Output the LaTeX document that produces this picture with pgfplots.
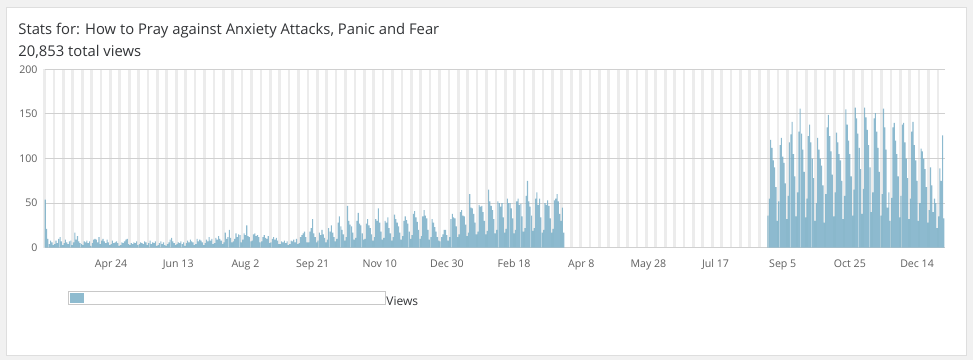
\documentclass[border=0pt]{standalone}
\usepackage{fontspec}
\setmainfont{Open Sans}
\usepackage{pgfplots}
\usepackage{pgfplotstable}
\pgfplotsset{compat=1.18}
\definecolor{barc}{RGB}{122,175,199}
\definecolor{legc}{RGB}{142,187,207}
\definecolor{pagebg}{RGB}{241,241,241}
\definecolor{cardline}{RGB}{222,222,222}
\definecolor{gridc}{RGB}{208,208,208}
\definecolor{stripe}{RGB}{236,236,236}
\definecolor{txt}{RGB}{50,52,55}
\definecolor{tickc}{RGB}{95,95,95}
\definecolor{legline}{RGB}{200,200,200}

% daily views, first period (day 0 = Mar 6, 2011 ... day 386)
\pgfplotstableread[row sep=\\]{
v\\
54\\21\\10\\4\\8\\6\\3\\
4\\8\\5\\10\\12\\7\\3\\
5\\9\\6\\4\\7\\8\\3\\
6\\17\\9\\13\\7\\5\\4\\
3\\7\\6\\8\\5\\7\\2\\
5\\9\\10\\9\\6\\12\\4\\
8\\10\\7\\5\\9\\6\\3\\
4\\8\\5\\6\\7\\5\\2\\
3\\6\\5\\7\\9\\10\\4\\
3\\5\\4\\6\\5\\7\\3\\
4\\6\\5\\4\\7\\6\\3\\
5\\8\\4\\6\\5\\7\\2\\
3\\5\\7\\4\\6\\3\\2\\
4\\6\\9\\11\\7\\5\\3\\
4\\6\\5\\7\\4\\6\\2\\
5\\8\\6\\9\\7\\6\\3\\
4\\10\\7\\9\\8\\6\\3\\
5\\9\\7\\12\\8\\10\\4\\
5\\11\\9\\13\\10\\8\\4\\
6\\17\\10\\12\\20\\11\\6\\
7\\10\\16\\12\\15\\14\\6\\
9\\16\\14\\25\\13\\12\\7\\
8\\15\\16\\13\\14\\12\\6\\
7\\12\\14\\11\\10\\13\\5\\
6\\10\\12\\9\\11\\8\\4\\
4\\7\\6\\8\\5\\7\\3\\
4\\8\\7\\9\\6\\10\\4\\
5\\12\\14\\16\\18\\12\\6\\
6\\18\\22\\32\\16\\12\\6\\
8\\17\\14\\20\\15\\11\\6\\
9\\22\\18\\25\\17\\12\\7\\
10\\28\\35\\24\\20\\15\\8\\
12\\47\\30\\26\\24\\17\\9\\
11\\30\\39\\27\\25\\16\\9\\
10\\27\\32\\25\\22\\15\\8\\
12\\32\\30\\44\\28\\18\\9\\
11\\30\\28\\34\\22\\16\\8\\
12\\37\\32\\28\\24\\17\\9\\
13\\30\\35\\31\\27\\18\\10\\
14\\38\\41\\34\\29\\20\\10\\
13\\35\\42\\36\\33\\20\\9\\
12\\32\\28\\23\\18\\12\\8\\
7\\12\\15\\20\\20\\14\\8\\
12\\32\\38\\34\\33\\24\\12\\
15\\40\\42\\36\\35\\26\\13\\
17\\60\\45\\44\\38\\28\\15\\
18\\48\\46\\47\\40\\30\\15\\
19\\65\\52\\47\\42\\32\\16\\
20\\52\\50\\46\\50\\34\\17\\
21\\55\\50\\50\\44\\33\\16\\
20\\52\\55\\48\\49\\35\\18\\
22\\58\\75\\52\\46\\36\\19\\
22\\55\\62\\48\\55\\34\\17\\
20\\50\\48\\53\\47\\33\\17\\
21\\53\\55\\60\\52\\38\\30\\
45\\17\\
}\first

% second period (day 538 = Sep 1, 2012 ... day 669)
\pgfplotstableread[row sep=\\]{
v\\
36\\
55\\121\\112\\98\\90\\68\\30\\
52\\115\\123\\102\\95\\72\\32\\
58\\118\\127\\141\\105\\80\\35\\
62\\130\\156\\128\\110\\85\\34\\
55\\125\\138\\118\\100\\78\\30\\
50\\123\\110\\100\\92\\70\\28\\
60\\135\\149\\125\\108\\82\\35\\
62\\129\\118\\105\\98\\75\\32\\
58\\155\\138\\120\\105\\80\\36\\
65\\157\\145\\128\\112\\88\\38\\
66\\157\\146\\132\\115\\90\\40\\
62\\145\\151\\130\\112\\85\\36\\
60\\156\\135\\110\\45\\62\\30\\
56\\135\\140\\120\\105\\80\\34\\
58\\138\\140\\118\\100\\78\\32\\
55\\130\\141\\115\\98\\75\\30\\
50\\111\\108\\100\\88\\68\\28\\
42\\90\\70\\40\\55\\50\\22\\
35\\89\\75\\126\\33\\
}\second

\begin{document}
\begin{tikzpicture}[x=1pt,y=1pt]
\useasboundingbox (0,0) rectangle (486.5,180);
\fill[pagebg] (0,0) rectangle (486.5,180);
\fill[white] (3,2.5) rectangle (483,176.5);
\draw[cardline, line width=0.5pt] (3,2.5) rectangle (483,176.5);
\node[anchor=base west, inner sep=0, text=txt, font=\fontsize{7.4}{9}\selectfont] at (9,162.85) {Stats for: How to Pray against Anxiety Attacks, Panic and Fear};
\node[anchor=base west, inner sep=0, text=txt, font=\fontsize{7.4}{9}\selectfont] at (9,152) {20,853 total views};
\begin{axis}[
  at={(22.3pt,56.15pt)}, anchor=south west,
  scale only axis, width=450pt, height=89.2pt,
  xmin=-0.5, xmax=669.5, ymin=0, ymax=200,
  axis line style={draw=none},
  tick style={draw=none},
  ytick={0,50,100,150,200},
  xtick={49,99,...,649},
  xticklabels={Apr 24,Jun 13,Aug 2,Sep 21,Nov 10,Dec 30,Feb 18,Apr 8,May 28,Jul 17,Sep 5,Oct 25,Dec 14},
  minor xtick={-0.5,6.5,...,670},
  xminorgrids=true, ymajorgrids=true, xmajorgrids=false,
  minor x grid style={stripe, line width=1.34pt},
  y grid style={gridc, line width=0.5pt},
  ticklabel style={font=\fontsize{5.3}{6}\selectfont, text=tickc},
  xticklabel style={yshift=-2.4pt},
  /pgf/number format/assume math mode=true,
  clip=true,
]
\addplot[ybar, bar width=0.8, bar shift=0pt, fill=barc, fill opacity=0.85, draw=none]
  table[x expr=\coordindex, y=v]{\first};
\addplot[ybar, bar width=0.8, bar shift=0pt, fill=barc, fill opacity=0.85, draw=none]
  table[x expr=\coordindex+538, y=v]{\second};
\end{axis}
\draw[legline, line width=0.5pt] (34.15,27.85) rectangle (192.85,34.15);
\fill[legc] (35,28.65) rectangle (42,33.35);
\node[anchor=base west, inner sep=0, font=\fontsize{6}{7}\selectfont, text=txt] at (193,27.15) {Views};
\end{tikzpicture}
\end{document}
